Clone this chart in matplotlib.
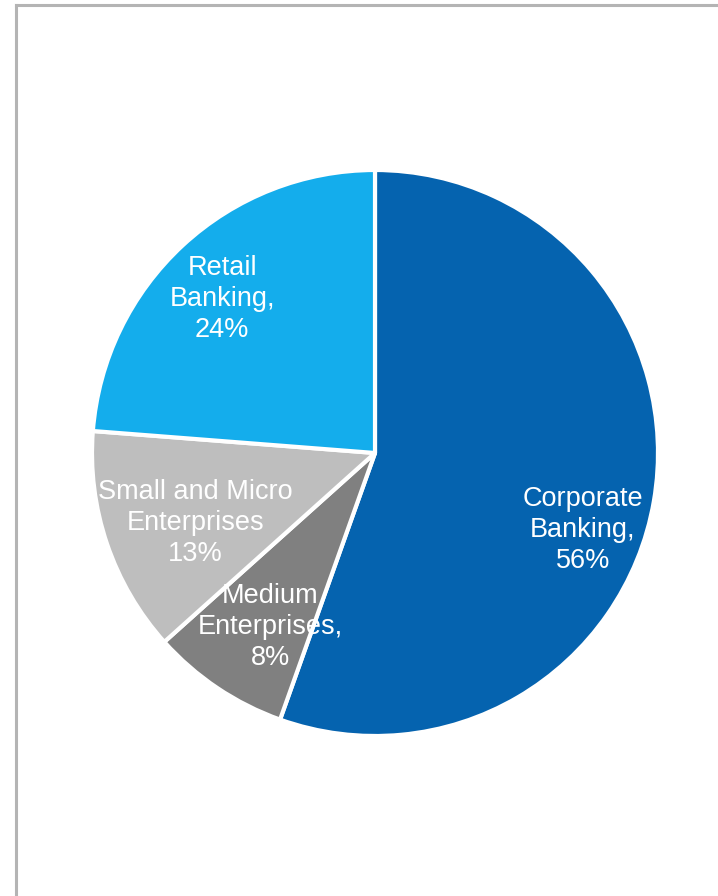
import matplotlib
matplotlib.use('Agg')
import matplotlib.pyplot as plt
from matplotlib.lines import Line2D

# ============================================================
# DATA
# ============================================================

segments = ['Corporate Banking', 'Medium Enterprises',
            'Small and Micro Enterprises', 'Retail Banking']
shares   = [56, 8, 13, 24]
labels   = ['Corporate\nBanking,\n56%', 'Medium\nEnterprises,\n8%',
            'Small and Micro\nEnterprises\n13%', 'Retail\nBanking,\n24%']
colors   = ['#0563AF', '#808080', '#BEBEBE', '#14ADEC']

# label anchor points (pie radius = 1)
label_xy = [(0.735, -0.272), (-0.37, -0.615), (-0.635, -0.247), (-0.54, 0.545)]

# ============================================================
# FIGURE
# ============================================================

W, H = 718, 896
cx, cy, r = 375, 453, 283

plt.rcParams['font.family'] = ['Liberation Sans', 'DejaVu Sans']
fig = plt.figure(figsize=(W / 100, H / 100), dpi=100)
fig.patch.set_facecolor('white')

# grey frame (left and top edges)
frame_kw = dict(color='#B4B4B4', linewidth=2.2, transform=fig.transFigure)
fig.add_artist(Line2D([15.5 / W, 15.5 / W], [0, 1 - 5.5 / H], **frame_kw))
fig.add_artist(Line2D([15.5 / W, 1], [1 - 5.5 / H, 1 - 5.5 / H], **frame_kw))

ax = fig.add_axes([(cx - r) / W, (H - cy - r) / H, 2 * r / W, 2 * r / H])
ax.pie(shares, colors=colors, startangle=90, counterclock=False, radius=1,
       wedgeprops=dict(edgecolor='white', linewidth=3, joinstyle='round'))
ax.set_xlim(-1, 1)
ax.set_ylim(-1, 1)
ax.set_aspect('equal')
ax.axis('off')

for text, (x, y) in zip(labels, label_xy):
    ax.text(x, y, text, ha='center', va='center', color='white',
            fontsize=19.5, linespacing=1.26)

fig.savefig('out.png', dpi=100, facecolor='white')
